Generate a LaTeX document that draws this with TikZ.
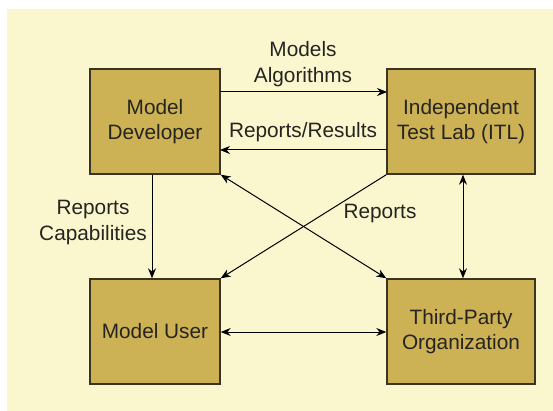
\documentclass[tikz,border=0pt]{standalone}
\usepackage{fontspec}
\setmainfont{Liberation Sans}
\usetikzlibrary{arrows.meta}
\definecolor{bgyellow}{HTML}{FAF6CE}
\definecolor{boxgold}{HTML}{CCB155}
\definecolor{boxedge}{HTML}{3A3420}
\definecolor{txt}{HTML}{262420}
\begin{document}
\begin{tikzpicture}[x=1pt,y=-1pt,
  entity/.style={draw=boxedge,line width=1.4pt,fill=boxgold,minimum width=130pt,minimum height=105pt,inner sep=0pt,align=center,text=txt,font=\fontsize{20.8}{25.5}\selectfont},
  lbl/.style={align=center,text=txt,font=\fontsize{20.8}{25.5}\selectfont,inner sep=0pt},
  conn/.style={line width=1pt,draw=black,-{Stealth[length=10pt,width=8pt]}},
  conn2/.style={line width=1pt,draw=black,{Stealth[length=10pt,width=8pt]}-{Stealth[length=10pt,width=8pt]}}]
\useasboundingbox (0,0) rectangle (553,411);
\fill[white] (0,0) rectangle (553,411);
\fill[bgyellow] (7,9) rectangle (553,411);
\node[entity] (md) at (155,121.5) {Model\\Developer};
\node[entity,minimum width=148pt] (itl) at (461,121.5) {Independent\\Test Lab (ITL)};
\node[entity] (mu) at (155,331.5) {Model User};
\node[entity,minimum width=148pt] (tp) at (461,331.5) {Third-Party\\Organization};
\coordinate (a1s) at (220,92); \coordinate (a1e) at (387,92);
\draw[conn] (a1s) -- (a1e);
\coordinate (a2s) at (387,150); \coordinate (a2e) at (220,150);
\draw[conn] (a2s) -- (a2e);
\node[lbl] (l1) at (303,64) {Models\\Algorithms};
\node[lbl] (l2) at (303,132) {Reports/Results};
\draw[conn] (md.south -| 152,0) -- (mu.north -| 152,0);
\node[lbl] (l3) at (93,222.5) {Reports\\Capabilities};
\draw[conn2] (itl.south -| 463,0) -- (tp.north -| 463,0);
\draw[conn] (itl.south west) -- (mu.north east);
\draw[conn2] (md.south east) -- (tp.north west);
\node[lbl] (l4) at (380,214) {Reports};
\draw[conn2] (mu.east |- 0,332) -- (tp.west |- 0,332);
\end{tikzpicture}
\end{document}
